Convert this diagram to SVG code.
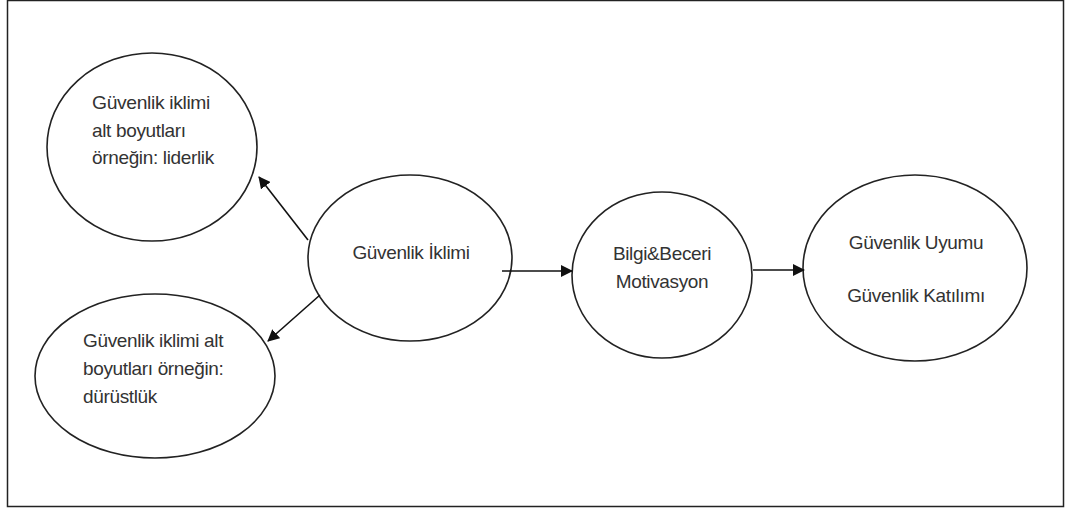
<svg xmlns="http://www.w3.org/2000/svg" width="1065" height="508" viewBox="0 0 1065 508">
<style>
.n{fill:#fff;stroke:#222;stroke-width:1.6}
.t{font-family:"Liberation Sans",Arial,sans-serif;font-size:19px;fill:#333;letter-spacing:-0.35px}
.c{stroke:#111;stroke-width:1.6;fill:none}
</style>
<defs>
<marker id="a" viewBox="0 0 12 12" refX="11" refY="6" markerWidth="12" markerHeight="12" markerUnits="userSpaceOnUse" orient="auto">
<path d="M0,0 L12,6 L0,12 z" fill="#111"/>
</marker>
</defs>
<rect x="7.5" y="0.5" width="1056" height="506" fill="#fff" stroke="#222" stroke-width="1.5"/>
<g id="n1"><ellipse class="n" cx="152" cy="147" rx="105" ry="94"/>
<text class="t" x="92" y="109" textLength="118" lengthAdjust="spacingAndGlyphs">Güvenlik iklimi</text>
<text class="t" x="92" y="137">alt boyutları</text>
<text class="t" x="92" y="164">örneğin: liderlik</text></g>
<g id="n2"><ellipse class="n" cx="155" cy="376" rx="120" ry="82"/>
<text class="t" x="83" y="347">Güvenlik iklimi alt</text>
<text class="t" x="83" y="375">boyutları örneğin:</text>
<text class="t" x="83" y="403">dürüstlük</text></g>
<g id="n3"><ellipse class="n" cx="410" cy="258" rx="102" ry="83"/>
<text class="t" x="411" y="259" text-anchor="middle">Güvenlik İklimi</text></g>
<g id="n4"><ellipse class="n" cx="662" cy="275" rx="90" ry="83"/>
<text class="t" x="662" y="260" text-anchor="middle">Bilgi&amp;Beceri</text>
<text class="t" x="662" y="288" text-anchor="middle">Motivasyon</text></g>
<g id="n5"><ellipse class="n" cx="915" cy="268" rx="112" ry="93"/>
<text class="t" x="916" y="249" text-anchor="middle">Güvenlik Uyumu</text>
<text class="t" x="916" y="302" text-anchor="middle">Güvenlik Katılımı</text></g>
<g id="connectors">
<line class="c" x1="308" y1="240" x2="259" y2="177" marker-end="url(#a)"/>
<line class="c" x1="320" y1="295" x2="268" y2="341" marker-end="url(#a)"/>
<line class="c" x1="502" y1="271" x2="572" y2="271" marker-end="url(#a)"/>
<line class="c" x1="753" y1="270" x2="804" y2="270" marker-end="url(#a)"/>
</g>
</svg>
